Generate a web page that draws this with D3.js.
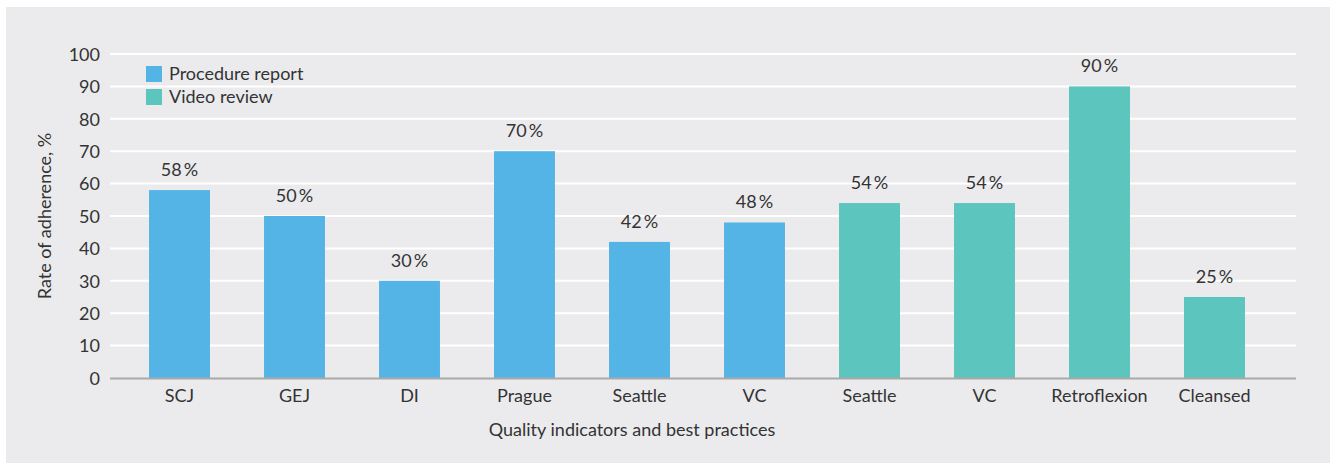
<!DOCTYPE html>
<html>
<head>
    <meta charset="utf-8" />
    <title>Rate of adherence</title>
    <style>
        body { margin: 0; background: #fff; }
        text { font-family: Lato, "Noto Sans", sans-serif; fill: #333; }
    </style>
</head>
<body>
<script src="https://d3js.org/d3.v7.min.js"></script>
<script>
    var categories = ["SCJ", "GEJ", "DI", "Prague", "Seattle", "VC", "Seattle", "VC", "Retroflexion", "Cleansed"];
    var values = [58, 50, 30, 70, 42, 48, 54, 54, 90, 25];
    var groups = ["Procedure report", "Procedure report", "Procedure report", "Procedure report", "Procedure report",
                  "Procedure report", "Video review", "Video review", "Video review", "Video review"];
    var seriesNames = ["Procedure report", "Video review"];
    var yTicks = [0, 10, 20, 30, 40, 50, 60, 70, 80, 90, 100];

    var width = 1335;
    var height = 464;
    var plot = {"left": 110, "right": 1296, "top": 54, "bottom": 378};

    var color = d3.scaleOrdinal()
                  .domain(seriesNames)
                  .range(["#55b4e6", "#5cc5bd"]);

    var svg = d3.select("body").append("svg")
                .attr("width", width)
                .attr("height", height);

    // grey panel
    svg.append("rect")
       .attr("x", 6).attr("y", 7)
       .attr("width", 1324).attr("height", 456)
       .attr("fill", "#ebebed");

    var xScaler = d3.scaleBand()
                    .domain(d3.range(categories.length))
                    .range([122, 1272])
                    .paddingInner(0.47)
                    .paddingOuter(0.235);

    var yScaler = d3.scaleLinear()
                    .domain([0, 100])
                    .range([plot.bottom, plot.top]);

    // gridlines
    svg.append("g")
       .selectAll("line")
       .data(yTicks.filter(d => d > 0))
       .enter().append("line")
       .attr("x1", plot.left).attr("x2", plot.right)
       .attr("y1", d => yScaler(d)).attr("y2", d => yScaler(d))
       .attr("stroke", "#fff")
       .attr("stroke-width", 2);

    // y axis labels
    var yAxis = d3.axisLeft(yScaler).tickValues(yTicks).tickSize(0).tickPadding(10);
    var yG = svg.append("g")
                .attr("transform", "translate(" + plot.left + ",0)")
                .call(yAxis);
    yG.select(".domain").remove();
    yG.selectAll("text").style("font-size", "18px").attr("fill", "#333").attr("dy", "0.35em");

    // bars
    svg.append("g")
       .selectAll("rect")
       .data(values)
       .enter().append("rect")
       .attr("x", (d, i) => xScaler(i))
       .attr("width", xScaler.bandwidth())
       .attr("y", d => yScaler(d))
       .attr("height", d => yScaler(0) - yScaler(d))
       .attr("fill", (d, i) => color(groups[i]));

    // value labels
    svg.append("g")
       .selectAll("text")
       .data(values)
       .enter().append("text")
       .attr("x", (d, i) => xScaler(i) + xScaler.bandwidth() / 2)
       .attr("y", d => yScaler(d) - 14)
       .attr("text-anchor", "middle")
       .style("font-size", "18px")
       .text(d => d + "\u2009%");

    // x axis
    var xAxis = d3.axisBottom(xScaler).tickSize(0).tickPadding(11).tickFormat(i => categories[i]);
    var xG = svg.append("g")
                .attr("transform", "translate(0," + plot.bottom + ")")
                .call(xAxis);
    xG.select(".domain").remove();
    xG.selectAll("text").style("font-size", "18px").attr("fill", "#333");

    svg.append("line")
       .attr("x1", plot.left).attr("x2", plot.right)
       .attr("y1", plot.bottom + 0.5).attr("y2", plot.bottom + 0.5)
       .attr("stroke", "#a9a9a9")
       .attr("stroke-width", 2);

    // axis titles
    svg.append("text")
       .attr("x", 632)
       .attr("y", 436)
       .attr("text-anchor", "middle")
       .style("font-size", "18px")
       .text("Quality indicators and best practices");

    svg.append("text")
       .attr("transform", "translate(51," + ((plot.top + plot.bottom) / 2) + ") rotate(-90)")
       .attr("text-anchor", "middle")
       .style("font-size", "18px")
       .text("Rate of adherence, %");

    // legend
    var legend = svg.append("g")
                    .attr("transform", "translate(146,66)");
    var items = legend.selectAll("g")
                      .data(seriesNames)
                      .enter().append("g")
                      .attr("transform", (d, i) => "translate(0," + (i * 23) + ")");
    items.append("rect")
         .attr("width", 16).attr("height", 16)
         .attr("fill", d => color(d));
    items.append("text")
         .attr("x", 23).attr("y", 14)
         .style("font-size", "18px")
         .text(d => d);
</script>
</body>
</html>
